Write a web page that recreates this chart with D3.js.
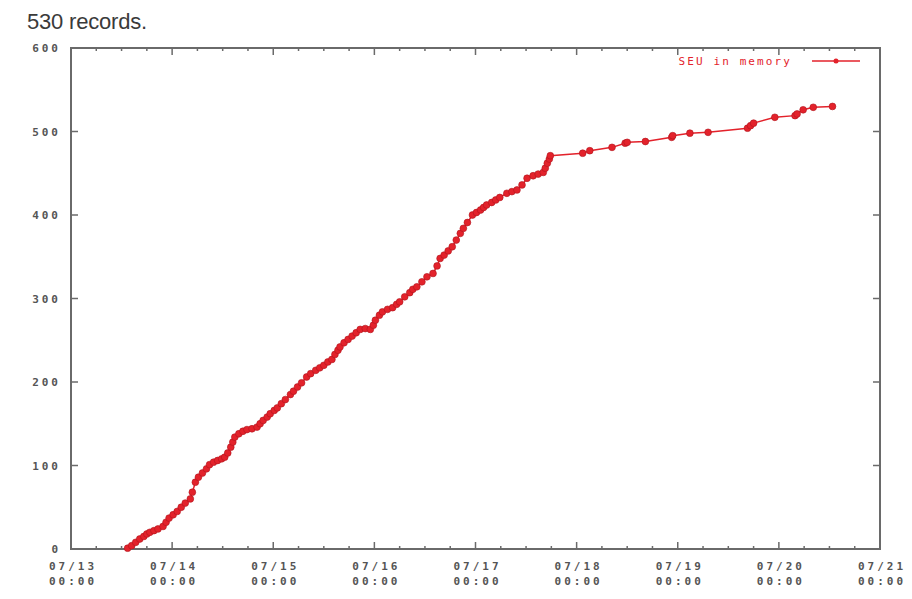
<!DOCTYPE html>
<html><head><meta charset="utf-8">
<script src="https://cdn.jsdelivr.net/npm/d3@7"></script>
<style>body{margin:0;background:#fff}</style>
</head><body>
<script>
// Data: time in days since 07/13 00:00, cumulative number of records
const days = [0.56,0.60,0.64,0.68,0.72,0.75,0.78,0.82,0.86,0.91,0.94,0.97,1.01,1.05,1.09,1.13,1.18,1.20,1.23,1.26,1.30,1.34,1.37,1.41,1.45,1.49,1.52,1.55,1.58,1.60,1.62,1.66,1.70,1.74,1.79,1.84,1.87,1.90,1.94,1.97,2.01,2.04,2.08,2.12,2.17,2.20,2.24,2.28,2.33,2.37,2.42,2.46,2.50,2.54,2.58,2.61,2.64,2.66,2.70,2.74,2.78,2.82,2.86,2.91,2.96,2.99,3.01,3.05,3.08,3.13,3.18,3.22,3.25,3.30,3.35,3.38,3.42,3.47,3.52,3.58,3.62,3.65,3.69,3.73,3.77,3.81,3.85,3.88,3.92,3.97,4.01,4.05,4.08,4.11,4.16,4.20,4.24,4.31,4.36,4.41,4.46,4.51,4.57,4.62,4.67,4.69,4.71,4.73,4.74,5.06,5.13,5.35,5.48,5.50,5.68,5.94,5.95,6.12,6.30,6.69,6.72,6.75,6.96,7.16,7.18,7.24,7.34,7.53];
const counts = [1,4,8,12,15,18,20,22,24,27,32,37,41,45,50,55,60,68,80,86,91,96,101,104,106,108,110,115,122,128,134,138,141,143,144,146,150,154,158,162,166,169,174,179,185,189,194,199,206,210,214,217,220,224,227,233,238,242,247,251,255,259,263,264,263,268,274,280,284,287,289,293,296,302,307,311,314,320,326,330,339,348,352,357,362,370,378,384,391,400,403,406,409,412,415,418,421,426,428,430,436,444,447,449,451,456,462,467,471,474,477,481,486,487,488,493,495,498,499,504,507,510,517,519,521,526,529,530];
const xTickDates = ["07/13","07/14","07/15","07/16","07/17","07/18","07/19","07/20","07/21"];
const xTickTimes = ["00:00","00:00","00:00","00:00","00:00","00:00","00:00","00:00","00:00"];
const yTicks = [0,100,200,300,400,500,600];
const seriesName = "SEU in memory";
const title = "530 records.";

const W = 912, H = 599;
const L = 71, R = 880, T = 48, B = 549;
const svg = d3.select("body").append("svg").attr("width", W).attr("height", H);
svg.append("rect").attr("width", W).attr("height", H).attr("fill", "#fff");

const x = d3.scaleLinear().domain([0, 8]).range([L, R]);
const y = d3.scaleLinear().domain([0, 600]).range([B, T]);

const axisColor = "#6a6a6a";
const textColor = "#555";
const red = "#e3222b";

svg.append("text").attr("x", 27).attr("y", 29)
  .attr("font-family", "Liberation Sans, Arial, sans-serif").attr("font-size", 22)
  .attr("fill", "#3a3a3a").attr("letter-spacing", "-0.2").text(title);

const g = svg.append("g");
// ticks
const major = d3.range(0, 9);
const minor = d3.range(0, 8.01, 0.25).filter(d => Math.abs(d - Math.round(d)) > 1e-6);
major.forEach(d => {
  g.append("line").attr("x1", x(d)).attr("x2", x(d)).attr("y1", B).attr("y2", B - 7).attr("stroke", axisColor).attr("stroke-width", 1.5);
  g.append("line").attr("x1", x(d)).attr("x2", x(d)).attr("y1", T).attr("y2", T + 7).attr("stroke", axisColor).attr("stroke-width", 1.5);
});
minor.forEach(d => {
  g.append("line").attr("x1", x(d)).attr("x2", x(d)).attr("y1", B).attr("y2", B - 3).attr("stroke", axisColor).attr("stroke-width", 1.5);
  g.append("line").attr("x1", x(d)).attr("x2", x(d)).attr("y1", T).attr("y2", T + 3).attr("stroke", axisColor).attr("stroke-width", 1.5);
});
yTicks.forEach(v => {
  g.append("line").attr("x1", L).attr("x2", L + 7).attr("y1", y(v)).attr("y2", y(v)).attr("stroke", axisColor).attr("stroke-width", 1.5);
  g.append("line").attr("x1", R).attr("x2", R - 7).attr("y1", y(v)).attr("y2", y(v)).attr("stroke", axisColor).attr("stroke-width", 1.5);
  g.append("text").attr("x", 61).attr("y", y(v) + 4).attr("text-anchor", "end")
    .attr("font-family", "DejaVu Sans Mono, monospace").attr("font-weight", "bold").attr("font-size", 11)
    .attr("letter-spacing", "3").attr("fill", textColor).text(v);
});
xTickDates.forEach((lab, i) => {
  const t = g.append("text").attr("x", x(i) + 1).attr("text-anchor", "middle")
    .attr("font-family", "DejaVu Sans Mono, monospace").attr("font-weight", "bold").attr("font-size", 11)
    .attr("letter-spacing", "3").attr("fill", textColor);
  t.append("tspan").attr("x", x(i) + 2).attr("y", 570).text(lab);
  t.append("tspan").attr("x", x(i) + 2).attr("y", 585).text(xTickTimes[i]);
});
// border
g.append("rect").attr("x", L).attr("y", T).attr("width", R - L).attr("height", B - T)
  .attr("fill", "none").attr("stroke", axisColor).attr("stroke-width", 2);

// series
const data = days.map((d, i) => [d, counts[i]]);
svg.append("path").datum(data)
  .attr("d", d3.line().x(d => x(d[0])).y(d => y(d[1])))
  .attr("fill", "none").attr("stroke", red).attr("stroke-width", 1.5);
svg.append("g").selectAll("circle").data(data).join("circle")
  .attr("cx", d => x(d[0])).attr("cy", d => y(d[1])).attr("r", 3.4)
  .attr("fill", red).attr("stroke", "#b0141c").attr("stroke-width", 0.6);

// legend
svg.append("text").attr("x", 792).attr("y", 65).attr("text-anchor", "end")
  .attr("font-family", "DejaVu Sans Mono, monospace").attr("font-size", 11)
  .attr("letter-spacing", "2.1").attr("fill", red).text(seriesName);
svg.append("line").attr("x1", 812).attr("x2", 860).attr("y1", 61).attr("y2", 61)
  .attr("stroke", red).attr("stroke-width", 1.3);
svg.append("circle").attr("cx", 836).attr("cy", 61).attr("r", 2.5).attr("fill", red);
</script>
</body></html>
